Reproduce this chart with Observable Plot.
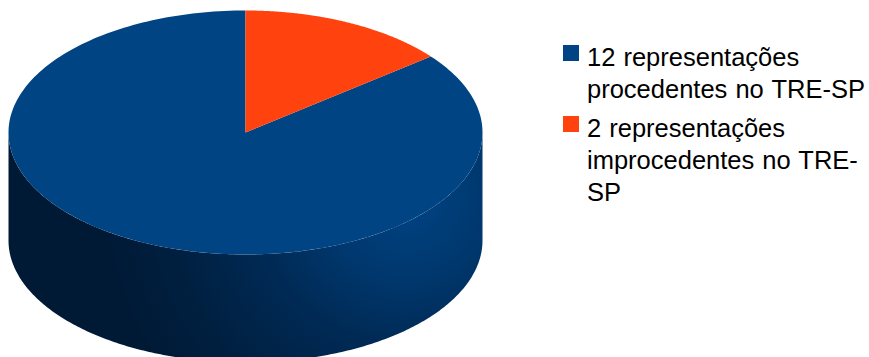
<!DOCTYPE html>
<html lang="pt">
<head>
<meta charset="utf-8">
<script src="https://cdn.jsdelivr.net/npm/d3@7"></script>
<script src="https://cdn.jsdelivr.net/npm/@observablehq/plot@0.6"></script>
<style>
  html, body { margin: 0; padding: 0; background: #fff; overflow: hidden; }
  #chart { position: relative; width: 869px; height: 357px; }
  #chart svg { position: absolute; left: 0; top: 0; }
  #legend { position: absolute; left: 563px; top: 41px; width: 306px;
            font: 25.5px/32px "Liberation Sans", Arial, sans-serif; color: #000; word-spacing: 1px; }
  .entry { position: relative; padding-left: 24px; margin-bottom: 7px; }
  .swatch { position: absolute; left: 0; top: 4px; width: 16px; height: 16px; }
  .line { display: block; white-space: nowrap; }
</style>
</head>
<body>
<div id="chart"></div>
<script>
// Representações julgadas pelo TRE-SP
const counts = [12, 2];
const labels = [
  ["12 representações", "procedentes no TRE-SP"],
  ["2 representações", "improcedentes no TRE-", "SP"]
];
const colors = ["#004484", "#ff420e"];

// Extrusion of the disc, in units of the vertical radius
const depth = 0.885;
const total = d3.sum(counts);

// The small slice starts at twelve o'clock; the large one follows it round
const slices = d3.pie().sort(null).startAngle((2 * Math.PI * counts[1]) / total)
  .endAngle((2 * Math.PI * counts[1]) / total + 2 * Math.PI)(counts);

const onRim = (a, drop = 0) => ({x: Math.sin(a), y: Math.cos(a) - drop});
const sweep = (a0, a1, n = 240) => d3.range(n + 1).map((i) => a0 + ((a1 - a0) * i) / n);

const wedge = (s) => [{x: 0, y: 0}, ...sweep(s.startAngle, s.endAngle).map((a) => onRim(a))];

// Visible wall of the cylinder: the front half of the rim and its lowered copy
const front = sweep(Math.PI / 2, (3 * Math.PI) / 2);
const wall = [...front.map((a) => onRim(a)), ...front.slice().reverse().map((a) => onRim(a, depth))];

// Light falls on the wall from the upper right and dies away towards the far left
const shading = () => {
  const svg = d3.create("svg:g");
  const g = svg.append("defs").append("radialGradient")
    .attr("id", "wall-shade").attr("gradientUnits", "userSpaceOnUse")
    .attr("cx", 405).attr("cy", 195).attr("r", 300);
  [[0, "#004484"], [0.27, "#00386e"], [0.5, "#002a55"], [0.8, "#001f3f"], [1, "#001a36"]]
    .forEach(([o, c]) => g.append("stop").attr("offset", o).attr("stop-color", c));
  return svg.node();
};

const plot = Plot.plot({
  width: 869,
  height: 357,
  margin: 0,
  x: {domain: [-1, 1], range: [8, 482], axis: null},
  y: {domain: [1, -1], range: [10, 254], axis: null},
  marks: [
    shading,
    Plot.line(wall, {x: "x", y: "y", fill: "url(#wall-shade)", stroke: "none"}),
    ...slices.map((s, i) =>
      Plot.line(wedge(s), {x: "x", y: "y", fill: colors[i], stroke: "none"})
    )
  ]
});

const chart = document.getElementById("chart");
chart.append(plot);

const legend = d3.select(chart).append("div").attr("id", "legend");
labels.forEach((lines, i) => {
  const entry = legend.append("div").attr("class", "entry");
  entry.append("span").attr("class", "swatch").style("background", colors[i]);
  lines.forEach((t) => entry.append("span").attr("class", "line").text(t));
});
</script>
</body>
</html>
